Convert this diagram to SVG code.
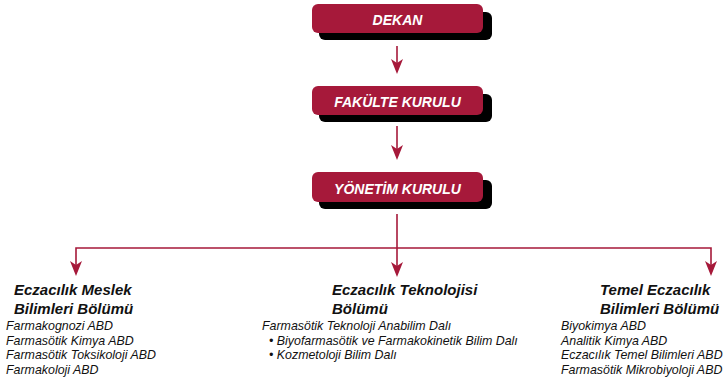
<svg xmlns="http://www.w3.org/2000/svg" width="723" height="384" viewBox="0 0 723 384">
<style>
.box{fill:#A6193A}
.shadow{fill:#000}
.lbl{font-family:"Liberation Sans",Arial,sans-serif;font-weight:bold;font-style:italic;font-size:14px;fill:#fff;text-anchor:middle}
.conn{stroke:#A6193A;stroke-width:1.6;fill:none}
.ah{fill:#A6193A}
.head{font-family:"Liberation Sans",Arial,sans-serif;font-weight:bold;font-style:italic;font-size:15px;fill:#111}
.item{font-family:"Liberation Sans",Arial,sans-serif;font-style:italic;font-size:12.4px;fill:#111}
</style>
<defs>
<path id="ah" class="ah" d="M-6,-15 L0,-11 L6,-15 L0,0 Z"/>
</defs>
<g id="connectors">
<line class="conn" x1="397" y1="46" x2="397" y2="66"/>
<use href="#ah" x="397" y="74"/>
<line class="conn" x1="397" y1="126" x2="397" y2="152"/>
<use href="#ah" x="397" y="160"/>
<line class="conn" x1="397" y1="214" x2="397" y2="268"/>
<use href="#ah" x="397" y="277"/>
<polyline class="conn" points="76,268 76,248 711,248 711,268"/>
<use href="#ah" x="76" y="276"/>
<use href="#ah" x="711" y="276"/>
</g>
<g id="dekan">
<rect class="shadow" x="319" y="12" width="173" height="28" rx="6"/>
<rect class="box" x="312" y="4" width="171" height="29" rx="6"/>
<text class="lbl" x="397.5" y="25">DEKAN</text>
</g>
<g id="fakulte-kurulu">
<rect class="shadow" x="319" y="94" width="173" height="28" rx="6"/>
<rect class="box" x="312" y="86" width="171" height="29" rx="6"/>
<text class="lbl" x="397.5" y="106.5">FAKÜLTE KURULU</text>
</g>
<g id="yonetim-kurulu">
<rect class="shadow" x="319" y="180" width="173" height="29" rx="6"/>
<rect class="box" x="312" y="172" width="171" height="30" rx="6"/>
<text class="lbl" x="397.5" y="193.5">YÖNETİM KURULU</text>
</g>
<g id="meslek">
<text class="head" x="14" y="295">Eczacılık Meslek</text>
<text class="head" x="14" y="314">Bilimleri Bölümü</text>
<text class="item" x="6" y="330">Farmakognozi ABD</text>
<text class="item" x="6" y="344.5">Farmasötik Kimya ABD</text>
<text class="item" x="6" y="359">Farmasötik Toksikoloji ABD</text>
<text class="item" x="6" y="373.5">Farmakoloji ABD</text>
</g>
<g id="teknoloji">
<text class="head" x="332" y="295">Eczacılık Teknolojisi</text>
<text class="head" x="332" y="314">Bölümü</text>
<text class="item" x="262" y="330">Farmasötik Teknoloji Anabilim Dalı</text>
<text class="item" x="269" y="344.5">• Biyofarmasötik ve Farmakokinetik Bilim Dalı</text>
<text class="item" x="269" y="359">• Kozmetoloji Bilim Dalı</text>
</g>
<g id="temel">
<text class="head" x="600" y="295">Temel Eczacılık</text>
<text class="head" x="600" y="314">Bilimleri Bölümü</text>
<text class="item" x="561" y="330">Biyokimya ABD</text>
<text class="item" x="561" y="344.5">Analitik Kimya ABD</text>
<text class="item" x="561" y="359">Eczacılık Temel Bilimleri ABD</text>
<text class="item" x="561" y="373.5">Farmasötik Mikrobiyoloji ABD</text>
</g>
</svg>
